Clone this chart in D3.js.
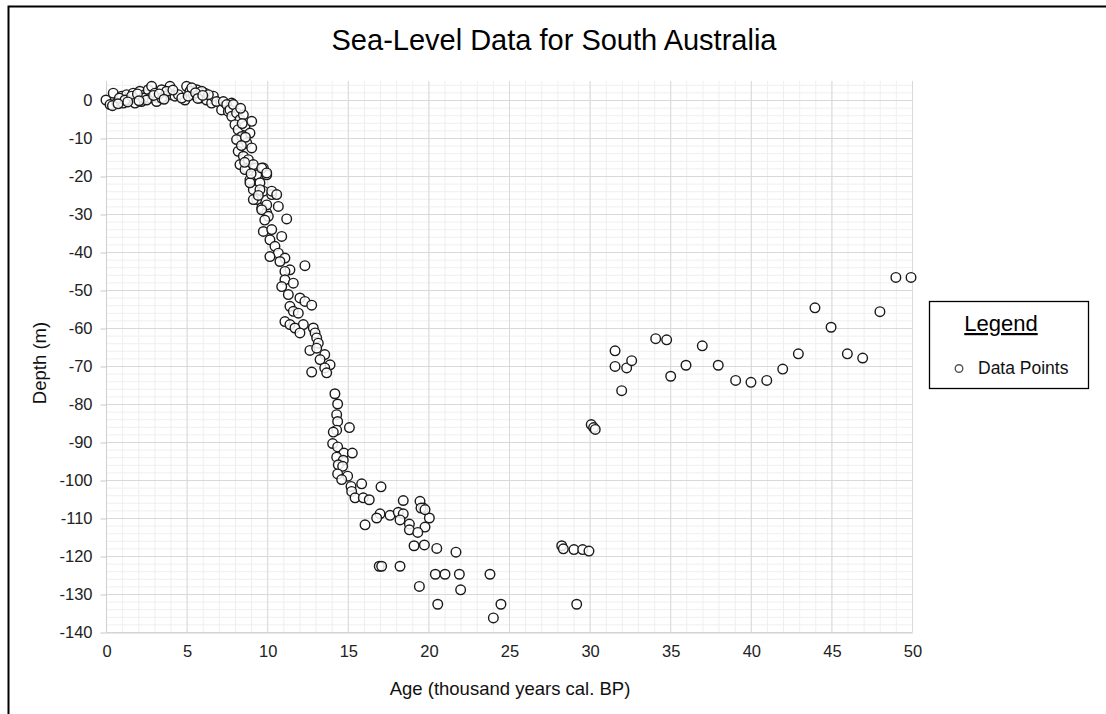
<!DOCTYPE html>
<html>
<head>
<meta charset="utf-8">
<title>Sea-Level Data for South Australia</title>
<script src="https://cdn.jsdelivr.net/npm/d3@7/dist/d3.min.js"></script>
<style>
    body { margin: 0; background: #fff; }
    text { font-family: Arial, "Liberation Sans", sans-serif; }
</style>
</head>
<body>
<div id="chart"></div>
<script>
/*jslint browser: true */

// [age (ka cal BP), depth (m)]
var holocenePoints = [
    [0, 0], [0.45, 1.8], [0.25, -1.2], [0.66, -0.8], [0.97, 1], [1.07, -0.8], [1.28, 1.4],
    [1.49, 0], [1.69, 1.8], [1.9, 0.5], [2.1, 2.3], [2.2, -0.4], [2.42, 1.4], [2.62, 2.7],
    [2.83, 3.6], [2.73, 0.5], [3.04, 1.8], [3.24, 0.5], [3.45, 2.7], [3.66, 1], [3.97, 3.6],
    [4.07, 1.4], [4.28, 1], [5.0, 3.6], [4.9, 0], [5.21, 2.3], [5.42, 1.4], [5.63, 2.7],
    [5.83, 0.5], [6.14, 1.8], [6.24, 0], [6.55, -0.8], [6.66, 1], [6.86, -0.4], [7.17, -2.6],
    [7.28, -0.4], [7.8, -0.8], [0.83, 0.5], [1.18, 0], [1.59, 1], [1.8, -0.8], [2.31, 0.5],
    [2.52, 0], [3.14, -0.4], [3.45, 0.5], [3.76, 2.3], [4.49, 1.4], [4.7, 0.5], [5.1, 1],
    [5.32, 3.2], [5.94, 2.3], [6.35, 1.4], [7.49, -1.2], [7.59, -3], [0.4, -1.5], [0.75, -1],
    [1.35, -0.5], [1.95, 1.6], [2.05, -0.2], [2.95, 1.2], [3.3, 1.6], [3.6, 0.2], [4.15, 2.6],
    [5.55, 1.9], [5.7, 0.4], [6.0, 1.2]
];

var deglacialPoints = [
    [7.69, -2.6], [7.9, -1.2], [7.8, -4.3], [8.1, -3.4], [8.31, -5.2], [8.52, -3.9], [8.0, -6.5],
    [8.2, -7.8], [8.62, -6.9], [9.04, -5.6], [8.93, -8.7], [8.42, -9.6], [8.1, -10.4],
    [8.73, -11.3], [9.04, -12.6], [8.2, -13.5], [8.52, -14.8], [8.83, -15.7], [8.31, -17],
    [8.73, -17.9], [9.24, -17.9], [9.76, -17.9], [9.97, -19.7], [9.35, -19.7], [8.93, -21],
    [9.55, -21.8], [9.14, -23.6], [9.76, -24], [10.28, -24.9], [10.69, -28], [9.35, -26.2],
    [9.66, -28.4], [9.97, -29.7], [8.62, -18.3], [9.14, -17], [9.66, -17.9], [9.97, -19.2],
    [8.93, -21.8], [9.55, -23.6], [10.28, -24], [10.59, -24.9], [9.14, -26.2], [9.97, -27.6],
    [11.21, -31.3], [9.66, -28.9], [10.07, -30.6], [9.76, -34.6], [10.28, -34.1],
    [10.9, -35.9], [10.17, -36.8], [10.48, -38.5], [10.69, -40.3], [10.17, -41.2],
    [11.1, -41.6], [10.79, -42.5], [12.34, -43.6], [11.41, -44.7], [11.1, -45.1],
    [11.1, -47.3], [11.62, -48.2], [10.9, -49.1], [11.31, -51.2], [12.03, -52.1],
    [12.34, -53], [12.76, -54], [11.41, -54.3], [11.62, -55.6], [11.93, -56.1], [11.1, -58.3],
    [11.41, -59.1], [12.24, -59.1], [11.72, -60], [12.03, -61.3], [12.86, -60], [12.97, -61.3],
    [13.07, -62.6], [13.17, -64], [12.65, -65.9], [13.07, -65.3], [13.57, -67], [13.28, -68.3],
    [13.9, -69.7], [13.57, -70.5], [12.76, -71.6], [13.69, -71.8], [8.35, -2.2], [8.45, -6.2],
    [8.65, -9.8], [8.4, -12], [8.6, -16.4], [9.0, -19.4], [9.45, -25.1], [9.85, -31.6]
];

var glacialPoints = [
    [14.2, -77.3], [14.37, -80], [14.31, -82.8], [14.37, -84.6], [14.31, -86.9], [14.1, -87.4],
    [15.1, -86.2], [14.06, -90.4], [14.37, -91.3], [14.76, -92.9], [15.28, -92.9], [14.31, -94],
    [14.72, -94.8], [14.41, -96], [14.68, -96.4], [14.37, -98.4], [14.99, -99], [14.62, -99.9],
    [15.86, -101], [15.2, -101.7], [17.06, -101.8], [15.24, -103], [15.45, -104.7],
    [15.96, -104.7], [16.33, -105.2], [18.44, -105.4], [19.48, -105.6], [19.69, -107.4],
    [20.06, -110], [17.0, -108.9], [17.62, -109.3], [16.79, -110], [18.13, -108.5],
    [18.44, -108.9], [18.24, -110.5], [18.82, -111.6], [16.07, -111.8], [19.79, -112.4],
    [19.54, -107.4], [19.79, -107.8], [18.82, -113.1], [19.34, -113.8], [19.11, -117.3],
    [19.75, -117.1], [20.52, -118], [21.71, -119], [16.95, -122.7], [17.1, -122.7],
    [18.24, -122.7], [19.44, -128], [20.43, -124.8], [21.03, -124.8], [21.92, -124.8],
    [23.82, -124.8], [22.0, -128.9], [20.58, -132.7], [24.5, -132.7], [24.03, -136.3],
    [28.27, -117.3], [28.37, -118.1], [29.03, -118.3], [29.57, -118.3], [29.96, -118.7],
    [29.2, -132.7]
];

var mis3Points = [
    [30.1, -85.4], [30.25, -86.2], [30.35, -86.7], [31.58, -66], [31.58, -70.1], [32.3, -70.5],
    [32.61, -68.6], [31.99, -76.5], [34.1, -62.8], [34.78, -63.1], [35.03, -72.7],
    [35.98, -69.8], [36.99, -64.7], [37.98, -69.8], [39.06, -73.8], [40.01, -74.3],
    [40.99, -73.8], [41.98, -70.8], [42.95, -66.8], [43.98, -54.7], [44.98, -59.8],
    [45.99, -66.8], [46.94, -67.9], [48.01, -55.7], [49.0, -46.7], [49.94, -46.7]
];

var xTicks = [0, 5, 10, 15, 20, 25, 30, 35, 40, 45, 50];
var yTicks = [0, -10, -20, -30, -40, -50, -60, -70, -80, -90, -100, -110, -120, -130, -140];

(function (d3) {
    "use strict";

    var width = 1106, height = 714,
        left = 106, right = 912, top = 81, bottom = 632,
        font = "Arial, 'Liberation Sans', sans-serif",
        points = holocenePoints.concat(deglacialPoints, glacialPoints, mis3Points),
        svg, x, y, minorX, minorY, legend;

    svg = d3.select("#chart").append("svg")
        .attr("width", width)
        .attr("height", height);

    // frame of the original figure (cropped at right and bottom)
    svg.append("rect")
        .attr("x", 8.5).attr("y", 6.5)
        .attr("width", 1200).attr("height", 800)
        .attr("fill", "none").attr("stroke", "#000").attr("stroke-width", 2);

    x = d3.scaleLinear().domain([0, 50]).range([left, right]);
    y = d3.scaleLinear().domain([-140, 5]).range([bottom, top]);

    minorX = d3.range(0, 51, 1);
    minorY = d3.range(-140, 5, 2);

    // minor grid
    svg.append("g").selectAll("line").data(minorX).enter().append("line")
        .attr("x1", function (d) { return x(d) + 0.5; })
        .attr("x2", function (d) { return x(d) + 0.5; })
        .attr("y1", top).attr("y2", bottom)
        .attr("stroke", "#efefef");
    svg.append("g").selectAll("line").data(minorY).enter().append("line")
        .attr("x1", left).attr("x2", right)
        .attr("y1", function (d) { return y(d) + 0.5; })
        .attr("y2", function (d) { return y(d) + 0.5; })
        .attr("stroke", "#efefef");

    // major grid
    svg.append("g").selectAll("line").data(xTicks).enter().append("line")
        .attr("x1", function (d) { return x(d) + 0.5; })
        .attr("x2", function (d) { return x(d) + 0.5; })
        .attr("y1", top).attr("y2", bottom)
        .attr("stroke", "#d9d9d9");
    svg.append("g").selectAll("line").data(yTicks).enter().append("line")
        .attr("x1", left).attr("x2", right)
        .attr("y1", function (d) { return y(d) + 0.5; })
        .attr("y2", function (d) { return y(d) + 0.5; })
        .attr("stroke", "#d9d9d9");

    // axes (plain hyphen for negatives, as in the source figure)
    svg.append("g")
        .attr("transform", "translate(" + (left + 0.5) + ",0.5)")
        .call(d3.axisLeft(y).tickValues(yTicks).tickFormat(String).tickSize(6).tickPadding(8))
        .call(function (g) {
            g.select(".domain").attr("stroke", "#d0d0d0").attr("d", "M0," + top + "V" + bottom);
            g.selectAll(".tick line").attr("stroke", "#c8c8c8");
            g.selectAll(".tick text").attr("font-size", 16.5).attr("fill", "#222")
                .style("font-family", font);
        });

    svg.append("g")
        .attr("transform", "translate(0.5," + (bottom + 0.5) + ")")
        .call(d3.axisBottom(x).tickValues(xTicks).tickFormat(String).tickSize(0).tickPadding(13))
        .call(function (g) {
            g.select(".domain").attr("stroke", "#d0d0d0");
            g.selectAll(".tick text").attr("font-size", 16.5).attr("fill", "#222")
                .style("font-family", font);
        });

    // data points
    svg.append("g").selectAll("circle").data(points).enter().append("circle")
        .attr("cx", function (d) { return x(d[0]); })
        .attr("cy", function (d) { return y(d[1]); })
        .attr("r", 4.8)
        .attr("fill", "#fff")
        .attr("fill-opacity", 0.85)
        .attr("stroke", "#1a1a1a")
        .attr("stroke-width", 1.4);

    // titles
    svg.append("text")
        .attr("x", 554).attr("y", 50)
        .attr("text-anchor", "middle")
        .attr("font-size", 29)
        .attr("fill", "#000")
        .text("Sea-Level Data for South Australia");

    svg.append("text")
        .attr("x", 510).attr("y", 695)
        .attr("text-anchor", "middle")
        .attr("font-size", 18.5)
        .attr("fill", "#111")
        .text("Age (thousand years cal. BP)");

    svg.append("text")
        .attr("transform", "translate(46,363) rotate(-90)")
        .attr("text-anchor", "middle")
        .attr("font-size", 18.5)
        .attr("fill", "#111")
        .text("Depth (m)");

    // legend
    legend = svg.append("g");
    legend.append("rect")
        .attr("x", 929.5).attr("y", 301.5)
        .attr("width", 159).attr("height", 87)
        .attr("fill", "#fff").attr("stroke", "#000").attr("stroke-width", 1.3);
    legend.append("text")
        .attr("x", 1001).attr("y", 331)
        .attr("text-anchor", "middle")
        .attr("font-size", 22)
        .attr("text-decoration", "underline")
        .attr("fill", "#000")
        .text("Legend");
    legend.append("circle")
        .attr("cx", 959).attr("cy", 368.5).attr("r", 3.8)
        .attr("fill", "#fff").attr("stroke", "#555").attr("stroke-width", 1.4);
    legend.append("text")
        .attr("x", 978).attr("y", 374)
        .attr("font-size", 17.5)
        .attr("fill", "#111")
        .text("Data Points");

}(window.d3));
</script>
</body>
</html>
